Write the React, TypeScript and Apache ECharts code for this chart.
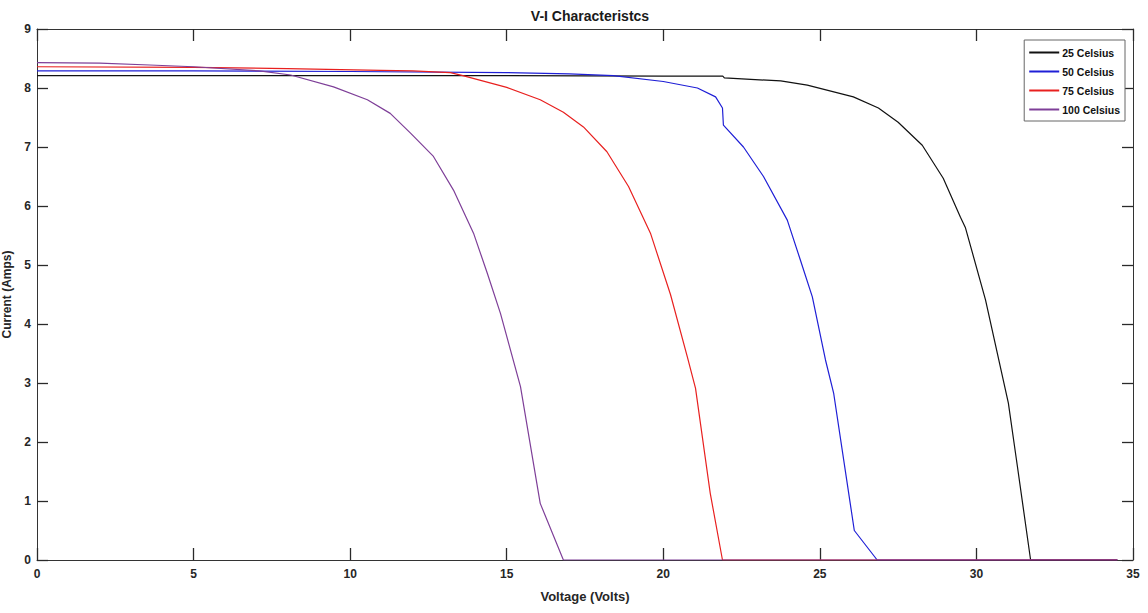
import React, { useEffect, useRef } from "react";
import * as echarts from "echarts";

const seriesNames = ["25 Celsius", "50 Celsius", "75 Celsius", "100 Celsius"];
const seriesColors = ["#111111", "#1f1fd6", "#e8201f", "#7e3f98"];

const curve25: [number, number][] = [
  [0, 8.21], [5, 8.21], [10, 8.21], [15, 8.21], [20, 8.2], [21.9, 8.2], [21.95, 8.17],
  [23.75, 8.12], [24.6, 8.05], [26.07, 7.85], [26.87, 7.66], [27.5, 7.42], [28.27, 7.03],
  [28.94, 6.47], [29.49, 5.81], [29.65, 5.63], [30.29, 4.41], [31.02, 2.66], [31.31, 1.58],
  [31.73, 0], [34.5, 0],
];
const curve50: [number, number][] = [
  [0, 8.29], [5, 8.29], [10, 8.28], [15, 8.26], [17, 8.24], [18.4, 8.21], [20, 8.11],
  [21.09, 8.0], [21.67, 7.85], [21.89, 7.66], [21.92, 7.37], [22.56, 7.0], [23.2, 6.5],
  [23.96, 5.76], [24.38, 5.08], [24.76, 4.46], [25.18, 3.39], [25.44, 2.83], [26.1, 0.5],
  [26.83, 0], [34.5, 0],
];
const curve75: [number, number][] = [
  [0, 8.36], [5, 8.35], [8, 8.33], [10.97, 8.3], [12, 8.29], [13.2, 8.26], [13.6, 8.21],
  [15, 8.01], [16.07, 7.8], [16.81, 7.59], [17.45, 7.34], [18.2, 6.92], [18.89, 6.33],
  [19.59, 5.54], [20.23, 4.5], [20.77, 3.44], [21.03, 2.91], [21.5, 1.13], [21.89, 0],
  [34.5, 0],
];
const curve100: [number, number][] = [
  [0, 8.43], [2, 8.42], [3.6, 8.39], [5, 8.36], [7.1, 8.29], [8.1, 8.22], [9.47, 8.02],
  [10.55, 7.8], [11.28, 7.57], [11.92, 7.24], [12.66, 6.84], [13.3, 6.27], [13.94, 5.54],
  [14.38, 4.86], [14.8, 4.18], [15.44, 2.94], [16.07, 0.96], [16.81, 0], [34.5, 0],
];
const curves = [curve25, curve50, curve75, curve100];

const FONT = "Liberation Sans, Arial, sans-serif";
const AXIS_COLOR = "#333333";

export default function App() {
  const ref = useRef<HTMLDivElement>(null);
  useEffect(() => {
    if (!ref.current) return;
    const chart = echarts.init(ref.current, undefined, { renderer: "svg" });
    const labelStyle = { fontFamily: FONT, fontWeight: "bold" as const, fontSize: 12, color: "#262626" };
    const tickStyle = { color: "#2a2a2a", width: 1.3 };
    chart.setOption({
      animation: false,
      backgroundColor: "#ffffff",
      title: {
        text: "V-I Characteristcs",
        left: 585,
        textAlign: "center",
        top: 4,
        textStyle: { fontFamily: FONT, fontWeight: "bold", fontSize: 14, color: "#1a1a1a" },
      },
      legend: {
        orient: "vertical",
        right: 23,
        top: 40,
        data: seriesNames,
        icon: "rect",
        itemWidth: 30,
        itemHeight: 2,
        itemGap: 6,
        padding: [6, 5, 5, 5],
        borderColor: "#666666",
        borderWidth: 1,
        backgroundColor: "#ffffff",
        textStyle: { fontFamily: FONT, fontWeight: "bold", fontSize: 10.5, lineHeight: 13, color: "#111111", padding: [0, 0, 0, -2] },
      },
      grid: { left: 37, right: 15, top: 29, bottom: 53, containLabel: false, outerBoundsMode: "none" },
      xAxis: [
        {
          type: "value",
          min: 0,
          max: 35,
          interval: 5,
          name: "Voltage (Volts)",
          nameLocation: "middle",
          nameGap: 30,
          nameTextStyle: { fontFamily: FONT, fontWeight: "bold", fontSize: 13, color: "#262626" },
          axisLine: { show: true, onZero: false, lineStyle: { color: AXIS_COLOR, width: 1 } },
          axisTick: { show: true, inside: true, length: 12, lineStyle: tickStyle },
          axisLabel: { ...labelStyle, margin: 8 },
          splitLine: { show: false },
        },
        {
          type: "value",
          position: "top",
          min: 0,
          max: 35,
          interval: 5,
          axisLine: { show: true, onZero: false, lineStyle: { color: AXIS_COLOR, width: 1 } },
          axisTick: { show: true, inside: true, length: 12, lineStyle: tickStyle },
          axisLabel: { show: false },
          splitLine: { show: false },
        },
      ],
      yAxis: [
        {
          type: "value",
          min: 0,
          max: 9,
          interval: 1,
          name: "Current (Amps)",
          nameLocation: "middle",
          nameGap: 20,
          nameTextStyle: { fontFamily: FONT, fontWeight: "bold", fontSize: 12, color: "#262626" },
          axisLine: { show: true, onZero: false, lineStyle: { color: AXIS_COLOR, width: 1 } },
          axisTick: { show: true, inside: true, length: 11, lineStyle: tickStyle },
          axisLabel: { ...labelStyle, margin: 6 },
          splitLine: { show: false },
        },
        {
          type: "value",
          position: "right",
          min: 0,
          max: 9,
          interval: 1,
          axisLine: { show: true, onZero: false, lineStyle: { color: AXIS_COLOR, width: 1 } },
          axisTick: { show: true, inside: true, length: 11, lineStyle: tickStyle },
          axisLabel: { show: false },
          splitLine: { show: false },
        },
      ],
      series: curves.map((c, i) => ({
        name: seriesNames[i],
        type: "line",
        data: c,
        xAxisIndex: 0,
        yAxisIndex: 0,
        showSymbol: false,
        symbol: "none",
        smooth: false,
        color: seriesColors[i],
        lineStyle: { color: seriesColors[i], width: 1.2 },
      })),
    });
    return () => chart.dispose();
  }, []);
  return (
    <div
      ref={ref}
      style={{ position: "fixed", left: 0, top: 0, width: 1148, height: 613, background: "#fff" }}
    />
  );
}
